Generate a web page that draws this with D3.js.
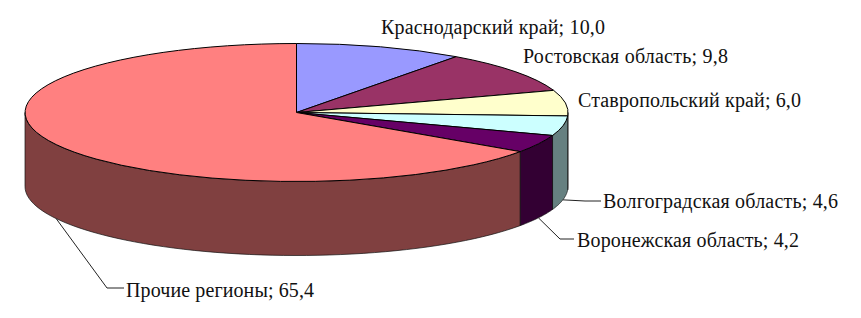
<!DOCTYPE html>
<html><head><meta charset="utf-8">
<script src="https://cdnjs.cloudflare.com/ajax/libs/d3/7.8.5/d3.min.js"></script>
<style>html,body{margin:0;padding:0;background:#fff}svg{display:block}</style>
</head><body><svg id="c" width="861" height="318"></svg>
<script>
const categories = ["Краснодарский край","Ростовская область","Ставропольский край","Волгоградская область","Воронежская область","Прочие регионы"];
const values = [10.0,9.8,6.0,4.6,4.2,65.4];
const topColors = ["#9999ff","#993366","#ffffcc","#ccffff","#660066","#ff8080"];
const sideColors = ["#4c4c80","#4d1a33","#808066","#668080","#330033","#804040"];
const labelX = [381,523,578,603,577,126];
const labelY = [34,63,107,208,247,297];
const labelW = [224,205,223,235,222,188];
const leaderKnee = [null,null,null,[585,201],[560,239],[107,288]];
const leaderEnd = [null,null,null,[601,201],[574,239],[124,288]];

const cx=296.5, cy=112.5, rx=271.5, ry=69, depth=74;
const fmt = v => v.toFixed(1).replace(".",",");
const svg = d3.select("#c");
const x = d3.scaleLinear().domain([-1,1]).range([cx-rx,cx+rx]);
const y = d3.scaleLinear().domain([-1,1]).range([cy-ry,cy+ry]);
const ex = a => x(Math.sin(a));
const ey = a => y(-Math.cos(a));
const pie = d3.pie().sort(null).value(d=>d)(values);

const wall = d3.line();
const arcSamples = (a0,a1) => d3.range(0,61).map(i => a0+(a1-a0)*i/60);
const walls = svg.append("g");
pie.forEach((p,i)=>{
  const a0=Math.max(p.startAngle,Math.PI/2), a1=Math.min(p.endAngle,Math.PI*1.5);
  if(a1<=a0) return;
  const s=arcSamples(a0,a1);
  const pts=[...s.map(a=>[ex(a),ey(a)]),...s.slice().reverse().map(a=>[ex(a),ey(a)+depth])];
  walls.append("path").attr("d",wall(pts)+"Z").attr("fill",sideColors[i])
    .attr("stroke","#111").attr("stroke-width",0.7).attr("stroke-linejoin","round");
});

const arc = d3.arc().innerRadius(0).outerRadius(1);
svg.append("g").attr("transform",`translate(${cx},${cy}) scale(${rx},${ry})`)
  .selectAll("path").data(pie).join("path")
  .attr("d",arc).attr("fill",(d,i)=>topColors[i])
  .attr("stroke","#000").attr("stroke-width",1).attr("vector-effect","non-scaling-stroke")
  .attr("stroke-linejoin","round");

pie.forEach((p,i)=>{
  if(!leaderKnee[i]) return;
  const m=(p.startAngle+p.endAngle)/2;
  svg.append("path").attr("fill","none").attr("stroke","#222").attr("stroke-width",1)
    .attr("d",d3.line()([[ex(m),ey(m)+depth],leaderKnee[i],leaderEnd[i]]));
});

svg.append("g").selectAll("text").data(categories).join("text")
  .attr("x",(d,i)=>labelX[i]).attr("y",(d,i)=>labelY[i])
  .attr("font-family","'Liberation Serif','Times New Roman',serif").attr("font-size",20)
  .attr("fill","#111")
  .attr("textLength",(d,i)=>labelW[i]).attr("lengthAdjust","spacing")
  .text((d,i)=>`${d}; ${fmt(values[i])}`);
</script></body></html>
